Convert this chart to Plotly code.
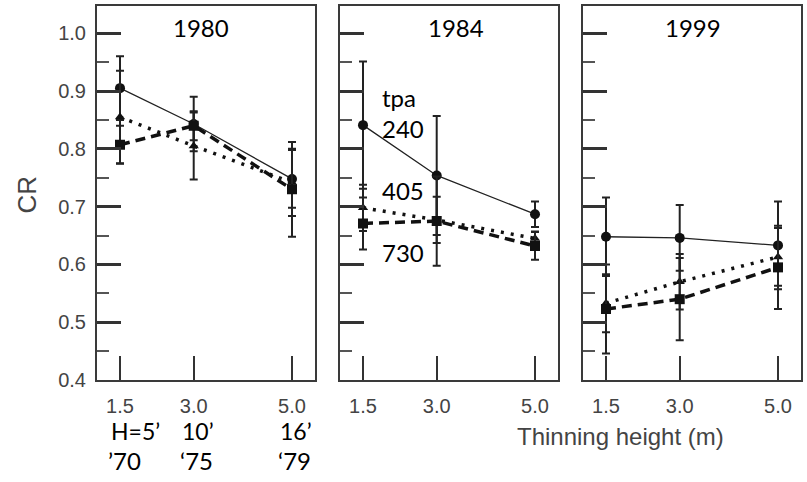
import plotly.graph_objects as go

W, H = 807, 482

years = ["1980", "1984", "1999"]
heights = [1.5, 3.0, 5.0]
tpa_labels = ["240", "405", "730"]

# CR values per year (rows) per thinning height (cols)
cr_240 = [[0.905, 0.843, 0.748], [0.841, 0.754, 0.687], [0.648, 0.646, 0.633]]
err_240 = [[0.055, 0.047, 0.050], [0.110, 0.103, 0.022], [0.068, 0.057, 0.076]]
cr_405 = [[0.855, 0.805, 0.742], [0.698, 0.677, 0.645], [0.533, 0.570, 0.613]]
err_405 = [[0.080, 0.058, 0.058], [0.040, 0.040, 0.012], [0.050, 0.048, 0.050]]
cr_730 = [[0.807, 0.840, 0.730], [0.671, 0.675, 0.632], [0.523, 0.540, 0.595]]
err_730 = [[0.033, 0.025, 0.082], [0.045, 0.077, 0.024], [0.077, 0.071, 0.072]]

y_ticks = [0.4, 0.5, 0.6, 0.7, 0.8, 0.9, 1.0]
y_ticktext = ["0.4", "0.5", "0.6", "0.7", "0.8", "0.9", "1.0"]
x_ticktext = ["1.5", "3.0", "5.0"]

fig = go.Figure()

panels_px = [(97, 315), (340, 558), (583, 801)]
top_px, bot_px = 6, 389

series = [
    (cr_240, err_240, dict(color="#222", width=1.3, dash="solid"), "circle", 10),
    (cr_405, err_405, dict(color="#111", width=3.5, dash="3px,7px"), "triangle-up", 9),
    (cr_730, err_730, dict(color="#111", width=3.5, dash="10px,6px"), "square", 10),
]

for i in range(3):
    xa = "x" if i == 0 else f"x{i+1}"
    ya = "y" if i == 0 else f"y{i+1}"
    for vals, errs, line, sym, msize in series:
        fig.add_trace(go.Scatter(
            x=heights, y=vals[i], mode="lines+markers",
            line=line,
            marker=dict(symbol=sym, size=msize, color="#111"),
            error_y=dict(type="data", array=errs[i], visible=True,
                         color="#222", thickness=2, width=4),
            xaxis=xa, yaxis=ya, showlegend=False,
        ))

layout = dict(
    width=W, height=H, margin=dict(l=0, r=0, t=0, b=0),
    paper_bgcolor="white", plot_bgcolor="white", showlegend=False,
)

SANS = "Liberation Sans"
scale = 172 / 3.5
for i, (l, r) in enumerate(panels_px):
    xk = "xaxis" if i == 0 else f"xaxis{i+1}"
    yk = "yaxis" if i == 0 else f"yaxis{i+1}"
    xr = [1.5 - (120 - 97) / scale, 5.0 + (r - l - 195) / scale]
    layout[xk] = dict(
        domain=[l / W, r / W], range=xr, anchor="y" if i == 0 else f"y{i+1}",
        showgrid=False, zeroline=False, showline=True, mirror=True,
        linecolor="#3a3a3a", linewidth=2,
        tickmode="array", tickvals=heights, ticktext=x_ticktext,
        ticks="inside", ticklen=24, tickwidth=2, tickcolor="#333",
        ticklabelstandoff=7,
        tickfont=dict(family=SANS, size=20, color="#444"),
    )
    layout[yk] = dict(
        domain=[1 - bot_px / H, 1 - top_px / H],
        range=[0.4, 0.4 + (bot_px - top_px) / 591.7],
        anchor="x" if i == 0 else f"x{i+1}",
        showgrid=False, zeroline=False, showline=True, mirror=True,
        linecolor="#3a3a3a", linewidth=2,
        tickmode="array", tickvals=y_ticks, ticktext=y_ticktext,
        showticklabels=(i == 0), ticklabelstandoff=5,
        ticks="inside", ticklen=24, tickwidth=2.5, tickcolor="#333",
        tickfont=dict(family=SANS, size=20, color="#444"),
        minor=dict(dtick=0.05, tick0=0.4, ticks="inside", ticklen=12,
                   tickwidth=1.5, tickcolor="#555"),
    )
fig.update_layout(**layout)

def ann(text, x, y, size=24, xanchor="center", family="Lato", color="black", angle=0):
    fig.add_annotation(text=text, x=x / W, y=1 - y / H, xref="paper", yref="paper",
                       showarrow=False, xanchor=xanchor, yanchor="middle",
                       font=dict(family=family, size=size, color=color),
                       textangle=angle, borderpad=0)

ann(years[0], 201, 28)
ann(years[1], 456, 28)
ann(years[2], 693, 28)
ann("tpa", 381, 100, xanchor="left")
ann(tpa_labels[0], 381, 132, xanchor="left")
ann(tpa_labels[1], 381, 195, xanchor="left")
ann(tpa_labels[2], 381, 258, xanchor="left")
ann("H=5’", 135, 441, size=23)
ann("10’", 198, 441, size=23)
ann("16’", 296, 441, size=23)
ann("’70", 125, 471)
ann("‘75", 196, 471)
ann("‘79", 294, 471)
ann("CR", 27, 199, size=26, family=SANS, color="#444", angle=-90)
ann("Thinning height (m)", 620, 447, size=24, family=SANS, color="#444")

fig.write_html("out.html")
